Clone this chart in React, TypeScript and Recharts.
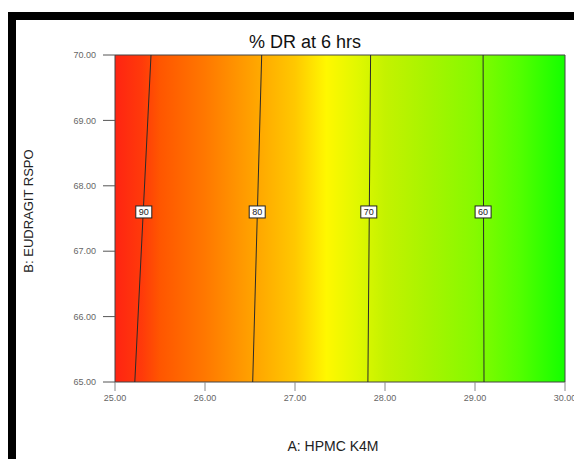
import { ComposedChart, Line, XAxis, YAxis, ReferenceArea, ReferenceDot, Label } from 'recharts';

const xTicks = [25, 26, 27, 28, 29, 30];
const yTicks = [65, 66, 67, 68, 69, 70];

// contour levels of % DR, with the A value where each crosses B = 65 and B = 70
const contourLevels = [90, 80, 70, 60];
const contourXAtLow = [25.22, 26.53, 27.81, 29.1];
const contourXAtHigh = [25.4, 26.63, 27.84, 29.09];
const tagX = [25.32, 26.58, 27.82, 29.09];
const tagY = 67.6;

// colour of the response surface along A
const shadeX = [25, 25.3, 25.5, 26, 26.5, 27, 27.35, 27.7, 28, 28.5, 29, 29.5, 30];
const shadeColors = ['#ff2412', '#ff3a0a', '#ff5600', '#ff7800', '#ffa000', '#ffc800', '#fff800', '#e0f800', '#c4f200', '#a6f400', '#86fa00', '#52ff00', '#14ff00'];

const font = '"Liberation Sans", Arial, sans-serif';

const ContourTag = ({ cx, cy, value }: { cx?: number; cy?: number; value: number }) => {
  if (cx == null || cy == null) return null;
  return (
    <g>
      <rect x={cx - 8} y={cy - 6} width={16} height={12} fill="#fff" stroke="#222" strokeWidth={1} />
      <text x={cx} y={cy + 3.5} textAnchor="middle" fontSize={9} fill="#222" fontFamily={font}>
        {value}
      </text>
    </g>
  );
};

export default function App() {
  return (
    <div style={{ paddingTop: 4 }}>
      <style>{'html,body{overflow:hidden}'}</style>
      <div
        style={{
          boxSizing: 'content-box',
          borderTop: '8px solid #000',
          borderLeft: '8px solid #000',
          width: 566,
          height: 439,
          background: '#fff',
          fontFamily: font,
        }}
      >
        <ComposedChart width={566} height={439} margin={{ top: 35, right: 17, bottom: 0, left: 0 }}>
          <defs>
            <linearGradient id="drShade" x1="0" y1="0" x2="1" y2="0">
              {shadeX.map((x, i) => (
                <stop key={i} offset={(x - 25) / 5} stopColor={shadeColors[i]} />
              ))}
            </linearGradient>
          </defs>
          <XAxis
            type="number"
            dataKey="a"
            domain={[25, 30]}
            ticks={xTicks}
            tickFormatter={(v: number) => v.toFixed(2)}
            axisLine={false}
            tickLine={{ stroke: '#888' }}
            tickSize={9}
            tickMargin={4}
            height={77}
            tick={{ fontSize: 9, fill: '#666', fontFamily: font }}
          >
            <Label
              content={() => (
                <g>
                  <text x={289} y={28} textAnchor="middle" fontSize={18} fill="#111" fontFamily={font}>
                    % DR at 6 hrs
                  </text>
                  <text x={317} y={431} textAnchor="middle" fontSize={14} fill="#222" fontFamily={font}>
                    A: HPMC K4M
                  </text>
                </g>
              )}
            />
          </XAxis>
          <YAxis
            type="number"
            domain={[65, 70]}
            ticks={yTicks}
            tickFormatter={(v: number) => v.toFixed(2)}
            axisLine={false}
            tickLine={{ stroke: '#555' }}
            tickSize={12}
            tickMargin={7}
            width={99}
            tick={{ fontSize: 9, fill: '#666', fontFamily: font }}
          >
            <Label
              content={() => (
                <text
                  x={17}
                  y={191}
                  transform="rotate(-90 17 191)"
                  textAnchor="middle"
                  fontSize={13}
                  fill="#222"
                  fontFamily={font}
                >
                  B: EUDRAGIT RSPO
                </text>
              )}
            />
          </YAxis>
          <ReferenceArea x1={25} x2={30} y1={65} y2={70} fill="url(#drShade)" fillOpacity={1} stroke="#444" strokeWidth={1} />
          {contourLevels.map((lvl, i) => (
            <Line
              key={lvl}
              data={[
                { a: contourXAtLow[i], b: 65 },
                { a: contourXAtHigh[i], b: 70 },
              ]}
              dataKey="b"
              stroke="#2a2a2a"
              strokeWidth={1}
              dot={false}
              activeDot={false}
              isAnimationActive={false}
            />
          ))}
          {contourLevels.map((lvl, i) => (
            <ReferenceDot
              key={'tag' + lvl}
              x={tagX[i]}
              y={tagY}
              r={0}
              shape={(p: { cx?: number; cy?: number }) => <ContourTag cx={p.cx} cy={p.cy} value={lvl} />}
            />
          ))}
        </ComposedChart>
      </div>
    </div>
  );
}
